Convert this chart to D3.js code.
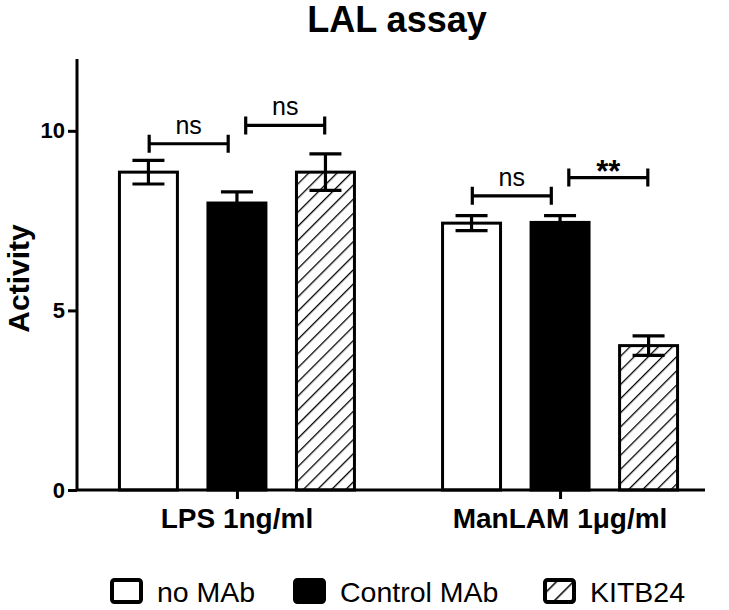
<!DOCTYPE html>
<html><head><meta charset="utf-8">
<script src="https://cdn.jsdelivr.net/npm/d3@7"></script>
<style>body{margin:0;background:#fff}svg{display:block;font-family:Arial,"Liberation Sans",sans-serif}</style>
</head><body><svg id="c" width="729" height="610"></svg>
<script>
const title = "LAL assay";
const yLabel = "Activity";
const categories = ["LPS 1ng/ml", "ManLAM 1\u03BCg/ml"];
const series = ["no MAb", "Control MAb", "KITB24"];
const meanLPS = [8.85, 7.99, 8.85];
const errLPS = [0.33, 0.31, 0.51];
const meanManLAM = [7.43, 7.45, 4.02];
const errManLAM = [0.21, 0.19, 0.27];
const yTicks = [0, 5, 10];
// brackets: [categoryIndex, fromSeries, toSeries, yValue, label]
const brackets = [
  [0, 0, 1, 9.64, "ns"],
  [0, 1, 2, 10.15, "ns"],
  [1, 0, 1, 8.19, "ns"],
  [1, 1, 2, 8.70, "**"]
];

const means = [meanLPS, meanManLAM];
const errs = [errLPS, errManLAM];
const rows = [];
categories.forEach((c, ci) => series.forEach((s, si) => rows.push({c, ci, s, si, v: means[ci][si], e: errs[ci][si]})));

const svg = d3.select("#c");
const defs = svg.append("defs");
const pat = defs.append("pattern").attr("id","hatch").attr("patternUnits","userSpaceOnUse")
  .attr("width",10).attr("height",10).attr("patternTransform","rotate(45)");
pat.append("rect").attr("width",10).attr("height",10).attr("fill","#fff");
pat.append("line").attr("x1",0).attr("y1",0).attr("x2",0).attr("y2",10).attr("stroke","#000").attr("stroke-width",2.6);
const pat2 = defs.append("pattern").attr("id","hatchL").attr("patternUnits","userSpaceOnUse")
  .attr("width",12).attr("height",12).attr("patternTransform","rotate(45)");
pat2.append("rect").attr("width",12).attr("height",12).attr("fill","#fff");
pat2.append("line").attr("x1",0).attr("y1",0).attr("x2",0).attr("y2",12).attr("stroke","#000").attr("stroke-width",3);
const fills = ["#fff", "#000", "url(#hatch)"];
const legFills = ["#fff", "#000", "url(#hatchL)"];

const axX0 = 77, axX1 = 705, axY0 = 490, axY1 = 59;
const y = d3.scaleLinear().domain([0, 12]).range([axY0, axY1]);
const x = d3.scalePoint().domain(categories).range([0, 643]).padding(0.495);
const xs = d3.scaleBand().domain(series).range([-117.5, 117.5]).paddingInner(0.345).paddingOuter(0);
const gx = c => axX0 + x(c);
const barCx = (ci, si) => gx(categories[ci]) + xs(series[si]) + xs.bandwidth()/2;

// bars
svg.append("g").selectAll("rect").data(rows).join("rect")
  .attr("x", d => gx(d.c) + xs(d.s))
  .attr("y", d => y(d.v))
  .attr("width", xs.bandwidth())
  .attr("height", d => y(0) - y(d.v))
  .attr("fill", d => fills[d.si])
  .attr("stroke", "#000").attr("stroke-width", 3);

// error bars
const eg = svg.append("g").attr("stroke","#000").attr("stroke-width",3.2);
rows.forEach(d => {
  const cx = barCx(d.ci, d.si), hw = 16;
  eg.append("line").attr("x1",cx).attr("x2",cx).attr("y1",y(d.v+d.e)).attr("y2",y(d.v-d.e));
  eg.append("line").attr("x1",cx-hw).attr("x2",cx+hw).attr("y1",y(d.v+d.e)).attr("y2",y(d.v+d.e));
  eg.append("line").attr("x1",cx-hw).attr("x2",cx+hw).attr("y1",y(d.v-d.e)).attr("y2",y(d.v-d.e));
});

// axes
const yAxis = d3.axisLeft(y).tickValues(yTicks).tickSize(9).tickPadding(3);
const yg = svg.append("g").attr("transform", `translate(${axX0},0)`).call(yAxis);
yg.select(".domain").attr("d", `M0,${axY1}V${axY0}`).attr("stroke-width",3);
yg.selectAll(".tick line").attr("stroke-width",3);
yg.selectAll(".tick text").attr("font-size",22).attr("font-weight","bold").attr("fill","#000");

const xAxis = d3.axisBottom(d3.scalePoint().domain(categories).range([axX0, axX0+643]).padding(0.495)).tickSize(9).tickFormat("");
const xg = svg.append("g").attr("transform", `translate(0,${axY0})`).call(xAxis);
xg.select(".domain").attr("d", `M${axX0},0H${axX1}`).attr("stroke-width",3);
xg.selectAll(".tick line").attr("stroke-width",3);
svg.append("g").selectAll("text").data(categories).join("text")
  .attr("x", d => gx(d)).attr("y", 528).attr("text-anchor","middle")
  .attr("font-size",28).attr("font-weight","bold").text(d => d);

// brackets
const bg = svg.append("g");
brackets.forEach((b, i) => {
  const a = barCx(b[0], b[1]), c = barCx(b[0], b[2]);
  const mid = (a + c)/2 + (b[1] === 0 ? -4 : 4);
  const x1 = mid - 39.5, x2 = mid + 39.5, yy = y(b[3]);
  bg.append("path").attr("d", `M${x1},${yy}H${x2}M${x1},${yy-9}V${yy+9}M${x2},${yy-9}V${yy+9}`)
    .attr("stroke","#000").attr("stroke-width",3.2).attr("fill","none");
  const star = b[4] === "**";
  bg.append("text").attr("x", mid).attr("y", yy + (star ? 4 : -10)).attr("text-anchor","middle")
    .attr("font-size", star ? 31 : 25).attr("font-weight", star ? "bold" : "normal").text(b[4]);
});

// title and y label
svg.append("text").attr("x",397).attr("y",32).attr("text-anchor","middle")
  .attr("font-size",36).attr("font-weight","bold").text(title);
svg.append("text").attr("transform",`translate(29,${(axY0+axY1)/2+4}) rotate(-90)`).attr("text-anchor","middle")
  .attr("font-size",30).attr("font-weight","bold").text(yLabel);

// legend
const legX = [110, 293, 543];
const lg = svg.append("g");
series.forEach((s, i) => {
  lg.append("rect").attr("x", legX[i]+2).attr("y", 580).attr("width",29).attr("height",22).attr("rx",2.5)
    .attr("fill", legFills[i]).attr("stroke","#000").attr("stroke-width",4);
  lg.append("text").attr("x", legX[i]+47).attr("y", 602).attr("font-size",28.5).text(s);
});
</script></body></html>
